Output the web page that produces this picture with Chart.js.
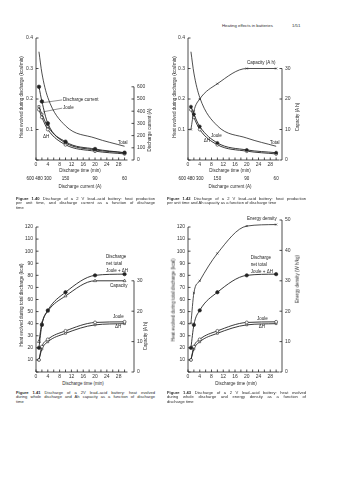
<!DOCTYPE html>
<html lang="en">
<head>
<meta charset="utf-8">
<title>Heating effects in batteries</title>
<script src="https://cdn.jsdelivr.net/npm/chart.js@4.4.1/dist/chart.umd.min.js"></script>
<style>
  html, body { margin: 0; padding: 0; background: #fff; }
  body { position: relative; width: 338px; height: 480px; overflow: hidden;
         font-family: "Liberation Sans", Arial, sans-serif; color: #2a2a2a; }
  canvas { position: absolute; }
  .t { position: absolute; font-size: 4.5px; line-height: 1; white-space: nowrap;
       transform: translate(-50%, -50%); }
  .t.v { transform: translate(-50%, -50%) rotate(-90deg); }
  .head { position: absolute; top: 22.5px; font-size: 4.3px; white-space: nowrap; color: #2a2a2a; }
  .cap { position: absolute; width: 139px; font-size: 4.1px; line-height: 4.7px; }
  .cap div { white-space: nowrap; text-align: justify; text-align-last: justify; }
  .cap div.last { text-align-last: left; }
</style>
</head>
<body>

<div class="head" style="left:222px">Heating effects in batteries</div>
<div class="head" style="left:292px">1/51</div>

<canvas id="fig140" width="160" height="162" style="left:0;top:30px"></canvas>
<canvas id="fig142" width="160" height="162" style="left:152px;top:30px"></canvas>
<canvas id="fig141" width="160" height="168" style="left:0;top:212px"></canvas>
<canvas id="fig143" width="160" height="168" style="left:152px;top:212px"></canvas>

<!-- axis titles -->
<div class="t v" style="left:22px;top:97px">Heat evolved during discharge (kcal/min)</div>
<div class="t v" style="left:150px;top:130px">Discharge current (A)</div>
<div class="t" style="left:80px;top:171px">Discharge time (min)</div>
<div class="t" style="left:80px;top:187px">Discharge current (A)</div>

<div class="t v" style="left:175px;top:97px">Heat evolved during discharge (kcal/min)</div>
<div class="t v" style="left:298px;top:117px">Capacity (A h)</div>
<div class="t" style="left:230px;top:171px">Discharge time (min)</div>
<div class="t" style="left:230px;top:187px">Discharge current (A)</div>

<div class="t v" style="left:22px;top:305px">Heat evolved during total discharge (kcal)</div>
<div class="t v" style="left:146px;top:336px">Capacity (A h)</div>
<div class="t" style="left:83px;top:384px">Discharge time (min)</div>

<div class="t v" style="left:174px;top:300px">Heat evolved during total discharge (kcal)</div>
<div class="t v" style="left:298px;top:279px">Energy density (W h/kg)</div>
<div class="t" style="left:236px;top:384px">Discharge time (min)</div>

<!-- captions -->
<div class="cap" style="left:16px;top:196.5px">
  <div><b>Figure 1.40</b> Discharge of a 2 V lead–acid battery: heat production</div>
  <div>per unit time, and discharge current as a function of discharge</div>
  <div class="last">time</div>
</div>
<div class="cap" style="left:167px;top:196.5px">
  <div><b>Figure 1.42</b> Discharge of a 2 V lead–acid battery: heat production</div>
  <div class="last">per unit time and Ah capacity as a function of discharge time</div>
</div>
<div class="cap" style="left:16px;top:390.5px">
  <div><b>Figure 1.41</b> Discharge of a 2V lead–acid battery: heat evolved</div>
  <div>during whole discharge and Ah capacity as a function of discharge</div>
  <div class="last">time</div>
</div>
<div class="cap" style="left:167px;top:390.5px">
  <div><b>Figure 1.43</b> Discharge of a 2 V lead–acid battery: heat evolved</div>
  <div>during whole discharge and energy density as a function of</div>
  <div class="last">discharge time</div>
</div>

<script>
// discharge time (min) of each test point, shared by all four panels
const dischargeTime = [1, 2, 4, 10, 20, 30];

// Fig 1.40 / 1.42: heat per unit time (kcal/min) and current (A)
const currentA      = [600, 480, 300, 150, 90, 60];
const heatRateTotal = [0.355, 0.285, 0.205, 0.112, 0.072, 0.045];
const heatRateJoule = [0.175, 0.15, 0.11, 0.056, 0.033, 0.024];
const heatRateDH    = [0.165, 0.14, 0.1, 0.05, 0.029, 0.02];

// Fig 1.41 / 1.43: heat over the whole discharge (kcal), capacity, energy density
const capacityAh = [10, 16, 20, 25, 30, 30];
const heatTotal  = [20, 39, 51, 66, 80, 81];
const heatJoule  = [10, 21, 27, 34, 41, 41.5];
const heatDH     = [10, 19, 25, 32, 39, 40];
const energyWhKg = [16, 26, 30, 39, 48, 48.5];

// tick values
const timeTicks     = [0, 2, 4, 6, 8, 10, 12, 14, 16, 18, 20, 22, 24, 26, 28, 30];
const rateTicks     = [0, 0.1, 0.2, 0.3, 0.4];
const currentTicks  = [0, 100, 200, 300, 400, 500, 600];
const capacityTicks = [0, 10, 20, 30];
const heatTicks     = [0, 10, 20, 30, 40, 50, 60, 70, 80, 90, 100, 110, 120];
const energyTicks   = [0, 10, 20, 30, 40, 50];

const INK  = '#222';
const FONT = '"Liberation Sans", Arial, sans-serif';
const TICK = 2.5;

const pts = arr => dischargeTime.map((t, i) => ({ x: t, y: arr[i] }));

const fixedTicks = values => scale => { scale.ticks = values.map(v => ({ value: v })); };
const fixedSize  = (prop, px) => scale => { scale[prop] = px; };

function series(label, values, axis, style) {
  return Object.assign({
    label, data: pts(values), yAxisID: axis,
    borderColor: INK, borderWidth: 0.9, cubicInterpolationMode: 'monotone',
    pointRadius: 1.5, pointBorderWidth: 0.6, pointBorderColor: INK, pointBackgroundColor: '#fff',
  }, style);
}

// axis lines over the labelled range only, inward ticks, curve labels
// and the row of discharge currents under the time axis
const panelDecor = {
  id: 'panelDecor',
  afterDatasetsDraw(chart, args, opts) {
    const { ctx, chartArea: area, scales } = chart;
    ctx.save();
    ctx.strokeStyle = INK;
    ctx.fillStyle = INK;
    ctx.lineWidth = 0.8;

    ctx.beginPath();
    for (const a of opts.axes) {
      const s = scales[a.id];
      const p0 = s.getPixelForValue(a.from), p1 = s.getPixelForValue(a.to);
      const inRange = s.ticks.filter(t => t.value >= a.from && t.value <= a.to);
      if (s.isHorizontal()) {
        const y = area.bottom;
        ctx.moveTo(p0, y); ctx.lineTo(p1, y);
        inRange.forEach(t => {
          const x = s.getPixelForValue(t.value);
          ctx.moveTo(x, y); ctx.lineTo(x, y - TICK);
        });
      } else {
        const left = s.position === 'left';
        const x = left ? area.left : area.right;
        ctx.moveTo(x, p0); ctx.lineTo(x, p1);
        inRange.forEach(t => {
          const y = s.getPixelForValue(t.value);
          ctx.moveTo(x, y); ctx.lineTo(left ? x + TICK : x - TICK, y);
        });
      }
    }
    ctx.stroke();

    ctx.font = `4.5px ${FONT}`;
    ctx.textBaseline = 'middle';
    ctx.textAlign = 'left';
    ctx.lineWidth = 0.5;
    for (const n of opts.notes) {
      const x = scales.x.getPixelForValue(n.t), y = scales.y.getPixelForValue(n.v);
      if (n.to) {
        ctx.beginPath();
        ctx.moveTo(scales.x.getPixelForValue(n.to[0]), scales.y.getPixelForValue(n.to[1]));
        ctx.lineTo(x - 0.8, y);
        ctx.stroke();
      }
      ctx.fillText(n.text, x, y);
    }

    if (opts.row) {
      const gap = ctx.measureText(' ').width;
      const items = opts.row.at.map((t, i) => {
        const text = String(opts.row.values[i]);
        const w = ctx.measureText(text).width;
        return { text, w, left: scales.x.getPixelForValue(t) - w / 2 };
      });
      // crowded labels at short times get pushed to the left
      for (let i = items.length - 2; i >= 0; i--) {
        const limit = items[i + 1].left - gap;
        if (items[i].left + items[i].w > limit) items[i].left = limit - items[i].w;
      }
      const y = area.bottom + opts.row.dy;
      items.forEach(it => ctx.fillText(it.text, it.left, y));
    }
    ctx.restore();
  }
};

function panel(id, cfg) {
  const tickFont = { family: FONT, size: 5 };
  const yScale = (pos, width, max, ticks, label) => ({
    type: 'linear', position: pos, min: 0, max,
    afterFit: fixedSize('width', width), afterBuildTicks: fixedTicks(ticks),
    grid: { display: false, drawTicks: false }, border: { display: false },
    ticks: { font: tickFont, color: '#333', padding: 3, autoSkip: false, callback: label },
  });
  new Chart(document.getElementById(id), {
    type: 'line',
    data: { datasets: cfg.datasets },
    options: {
      responsive: false, animation: false, events: [],
      layout: { padding: { top: 8, left: 0, right: 0, bottom: 0 } },
      plugins: { legend: { display: false }, tooltip: { enabled: false }, panelDecor: cfg.decor },
      scales: {
        x: {
          type: 'linear', min: 0, max: cfg.xMax,
          afterFit: fixedSize('height', cfg.xHeight), afterBuildTicks: fixedTicks(timeTicks),
          grid: { display: false, drawTicks: false }, border: { display: false },
          ticks: { font: tickFont, color: '#333', padding: 1.5, autoSkip: false, maxRotation: 0,
                   callback: v => (v % 4 === 0 && v <= 28 ? v : '') },
        },
        y: yScale('left', 36, cfg.yMax, cfg.yTicks, cfg.yLabel),
        y1: yScale('right', cfg.rightWidth, cfg.y1Max, cfg.y1Ticks, v => v),
      },
    },
    plugins: [panelDecor],
  });
}

const rateLabel = v => (v === 0 ? '' : v.toFixed(1));
const heatLabel = v => (v === 0 ? '' : v);

// Fig 1.40: heat production rate and discharge current
panel('fig140', {
  xMax: 33.2, xHeight: 32, rightWidth: 26,
  yMax: 0.4, yTicks: rateTicks, yLabel: rateLabel,
  y1Max: 1000, y1Ticks: currentTicks,
  datasets: [
    series('Total', heatRateTotal, 'y', { pointRadius: 0, borderWidth: 0.8 }),
    series('Discharge current', currentA, 'y1', { pointRadius: 1.8, pointBackgroundColor: INK }),
    series('Joule', heatRateJoule, 'y', { pointStyle: 'rect' }),
    series('ΔH', heatRateDH, 'y', { pointStyle: 'circle' }),
  ],
  decor: {
    axes: [{ id: 'x', from: 0, to: 31 }, { id: 'y', from: 0, to: 0.4 }, { id: 'y1', from: 0, to: 600 }],
    notes: [
      { text: 'Discharge current', t: 9.15, v: 0.197, to: [2.3, 0.188] },
      { text: 'Joule', t: 9.15, v: 0.17, to: [2.5, 0.158] },
      { text: 'ΔH', t: 2.4, v: 0.075 },
      { text: 'Total', t: 27.8, v: 0.058 },
    ],
    row: { values: currentA, at: dischargeTime, dy: 19 },
  },
});

// Fig 1.42: heat production rate and Ah capacity
panel('fig142', {
  xMax: 32, xHeight: 32, rightWidth: 30,
  yMax: 0.4, yTicks: rateTicks, yLabel: rateLabel,
  y1Max: 40, y1Ticks: capacityTicks,
  datasets: [
    series('Total', heatRateTotal, 'y', { pointRadius: 0, borderWidth: 0.8 }),
    series('Capacity', capacityAh, 'y1', { pointStyle: 'crossRot', pointRadius: 1.4, borderWidth: 0.8 }),
    series('Joule', heatRateJoule, 'y', { pointStyle: 'circle', pointBackgroundColor: INK }),
    series('ΔH', heatRateDH, 'y', { pointStyle: 'circle' }),
  ],
  decor: {
    axes: [{ id: 'x', from: 0, to: 31 }, { id: 'y', from: 0, to: 0.4 }, { id: 'y1', from: 0, to: 30 }],
    notes: [
      { text: 'Capacity (A h)', t: 20.1, v: 0.318 },
      { text: 'Joule', t: 7.8, v: 0.079 },
      { text: 'ΔH', t: 5.4, v: 0.064 },
      { text: 'Total', t: 27.9, v: 0.058 },
    ],
    row: { values: currentA, at: dischargeTime, dy: 19 },
  },
});

// Fig 1.41: heat over whole discharge and Ah capacity
panel('fig141', {
  xMax: 33.2, xHeight: 8, rightWidth: 26,
  yMax: 125.8, yTicks: heatTicks, yLabel: heatLabel,
  y1Max: 50, y1Ticks: capacityTicks,
  datasets: [
    series('Discharge net total', heatTotal, 'y', { pointRadius: 1.7, pointBackgroundColor: INK }),
    series('Capacity', capacityAh, 'y1', { pointStyle: 'triangle', pointRadius: 1.7 }),
    series('Joule', heatJoule, 'y', { pointStyle: 'circle' }),
    series('ΔH', heatDH, 'y', { pointStyle: 'rect', pointRadius: 1.3 }),
  ],
  decor: {
    axes: [{ id: 'x', from: 0, to: 31 }, { id: 'y', from: 0, to: 120 }, { id: 'y1', from: 0, to: 30 }],
    notes: [
      { text: 'Discharge', t: 23.7, v: 95.2 },
      { text: 'net total', t: 23.7, v: 89.4 },
      { text: 'Joule + ΔH', t: 23.7, v: 83.6 },
      { text: 'Capacity', t: 25.1, v: 71.2 },
      { text: 'Joule', t: 26.1, v: 45.5 },
      { text: 'ΔH', t: 26.8, v: 37.3 },
    ],
  },
});

// Fig 1.43: heat over whole discharge and energy density
panel('fig143', {
  xMax: 32, xHeight: 8, rightWidth: 30,
  yMax: 125.8, yTicks: heatTicks, yLabel: heatLabel,
  y1Max: 50, y1Ticks: energyTicks,
  datasets: [
    series('Energy density', energyWhKg, 'y1', { pointStyle: 'crossRot', pointRadius: 1.4, borderWidth: 0.8 }),
    series('Discharge net total', heatTotal, 'y', { pointRadius: 1.7, pointBackgroundColor: INK }),
    series('Joule', heatJoule, 'y', { pointStyle: 'circle' }),
    series('ΔH', heatDH, 'y', { pointStyle: 'rect', pointRadius: 1.3 }),
  ],
  decor: {
    axes: [{ id: 'x', from: 0, to: 31 }, { id: 'y', from: 0, to: 120 }, { id: 'y1', from: 0, to: 50 }],
    notes: [
      { text: 'Energy density', t: 20.1, v: 126.5 },
      { text: 'Discharge', t: 21.4, v: 94.4 },
      { text: 'net total', t: 21.4, v: 88.6 },
      { text: 'Joule + ΔH', t: 21.4, v: 82.8 },
      { text: 'Joule', t: 23.5, v: 43.9 },
      { text: 'ΔH', t: 24.1, v: 37.3 },
    ],
  },
});
</script>
</body>
</html>
